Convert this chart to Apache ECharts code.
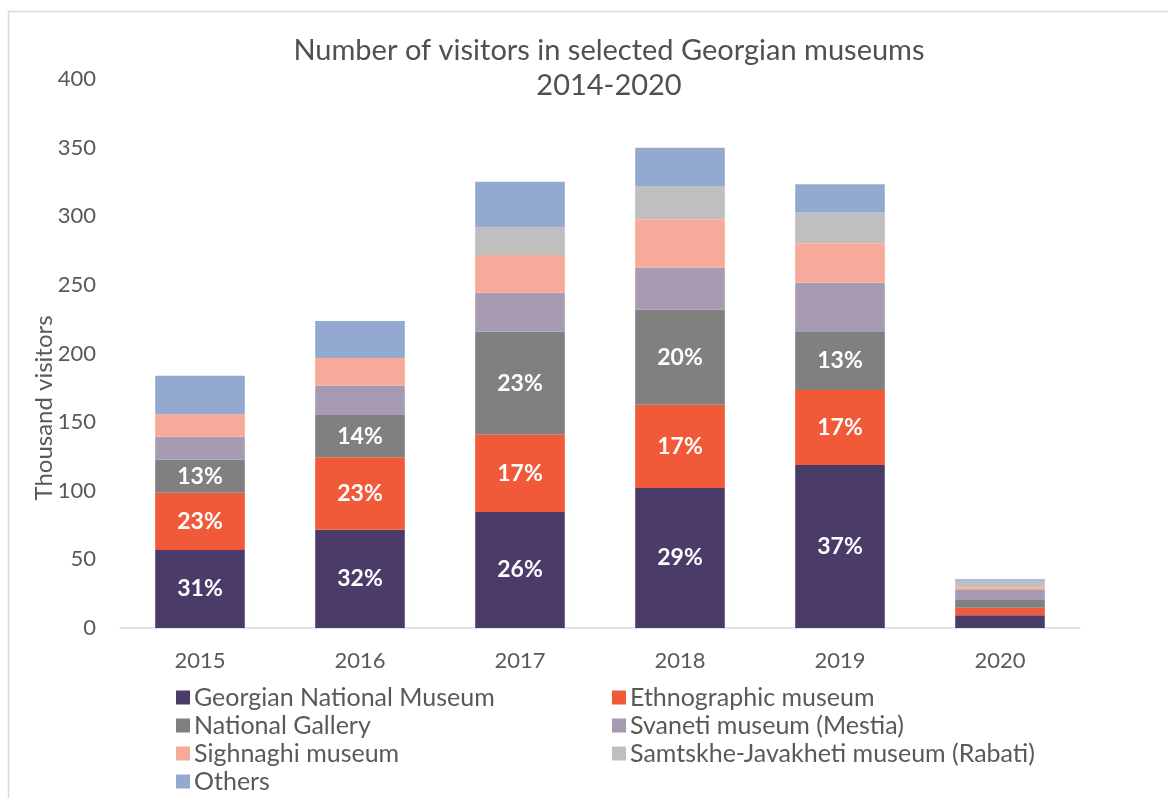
<!DOCTYPE html>
<html>
<head>
<meta charset="utf-8">
<script src="https://cdn.jsdelivr.net/npm/echarts@6/dist/echarts.min.js"></script>
<style>html,body{margin:0;padding:0;background:#fff;}#c{width:1168px;height:798px;}</style>
</head>
<body>
<div id="c"></div>
<script>
const years = ['2015', '2016', '2017', '2018', '2019', '2020'];
const seriesNames = ['Georgian National Museum', 'Ethnographic museum', 'National Gallery', 'Svaneti museum (Mestia)', 'Sighnaghi museum', 'Samtskhe-Javakheti museum (Rabati)', 'Others'];
const georgianNational = [56.8, 71.6, 84.5, 102.0, 118.8, 9.3];
const ethnographic = [41.7, 52.8, 56.3, 60.7, 54.6, 5.5];
const nationalGallery = [24.3, 30.8, 75.1, 69.2, 42.8, 5.6];
const svaneti = [16.5, 21.3, 28.4, 30.6, 35.4, 7.3];
const sighnaghi = [16.5, 20.2, 27.5, 35.3, 28.7, 2.0];
const samtskhe = [0, 0, 20.2, 24.2, 22.4, 4.8];
const others = [27.9, 27.0, 33.2, 27.9, 20.6, 1.0];
const gnmLabels = ['31%', '32%', '26%', '29%', '37%', ''];
const ethLabels = ['23%', '23%', '17%', '17%', '17%', ''];
const galLabels = ['13%', '14%', '23%', '20%', '13%', ''];
const yTicks = [0, 50, 100, 150, 200, 250, 300, 350, 400];

const colors = ['#4b3b68', '#f15a38', '#808080', '#a59ab2', '#f7aa99', '#bfbfbf', '#94a9d0'];
const FONT = 'Lato';
const dataSets = [georgianNational, ethnographic, nationalGallery, svaneti, sighnaghi, samtskhe, others];
const labelSets = [gnmLabels, ethLabels, galLabels, null, null, null, null];

const series = dataSets.map((d, i) => ({
  name: seriesNames[i],
  type: 'bar',
  stack: 'total',
  barWidth: '56%',
  data: d,
  itemStyle: { color: colors[i] },
  emphasis: { disabled: true },
  label: labelSets[i] ? {
    show: true,
    position: 'inside',
    color: '#ffffff',
    fontFamily: FONT,
    fontWeight: 'bold',
    fontSize: 23,
    formatter: p => labelSets[i][p.dataIndex]
  } : { show: false }
}));

const legendText = { fontFamily: FONT, fontSize: 25, color: '#595959', lineHeight: 24, padding: [0, 0, 0, -1] };

const chart = echarts.init(document.getElementById('c'), null, { renderer: 'canvas' });
chart.setOption({
  animation: false,
  backgroundColor: '#ffffff',
  title: {
    text: 'Number of visitors in selected Georgian museums\n2014-2020',
    left: 604,
    textAlign: 'center',
    top: 28,
    textStyle: { fontFamily: FONT, fontWeight: 'normal', fontSize: 29, color: '#505050', lineHeight: 35 }
  },
  grid: { left: 120, right: 88, top: 79, bottom: 170 },
  xAxis: {
    type: 'category',
    data: years,
    axisLine: { lineStyle: { color: '#d9d9d9', width: 1.5 } },
    axisTick: { show: false },
    axisLabel: { fontFamily: FONT, fontSize: 22, color: '#595959', margin: 22 }
  },
  yAxis: {
    type: 'value',
    min: yTicks[0],
    max: yTicks[yTicks.length - 1],
    interval: 50,
    axisLine: { show: false },
    axisTick: { show: false },
    splitLine: { show: false },
    axisLabel: { fontFamily: FONT, fontSize: 22, color: '#595959', margin: 24 }
  },
  legend: [
    {
      orient: 'vertical', left: 176, top: 685, padding: 0, itemWidth: 14, itemHeight: 14, itemGap: 3,
      icon: 'rect', selectedMode: false,
      data: [seriesNames[0], seriesNames[2], seriesNames[4], seriesNames[6]],
      textStyle: legendText
    },
    {
      orient: 'vertical', left: 612, top: 685, padding: 0, itemWidth: 14, itemHeight: 14, itemGap: 3,
      icon: 'rect', selectedMode: false,
      data: [seriesNames[1], seriesNames[3], seriesNames[5]],
      textStyle: legendText
    }
  ],
  graphic: [
    { type: 'rect', shape: { x: 8.5, y: 11.5, width: 1300, height: 900 }, style: { fill: 'none', stroke: '#d9d9d9', lineWidth: 1.5 }, silent: true },
    { type: 'text', x: 44, y: 408, rotation: Math.PI / 2,
      style: { text: 'Thousand visitors', fontFamily: FONT, fontSize: 24, fill: '#595959', align: 'center', verticalAlign: 'middle' } }
  ],
  series: series
});
</script>
</body>
</html>
